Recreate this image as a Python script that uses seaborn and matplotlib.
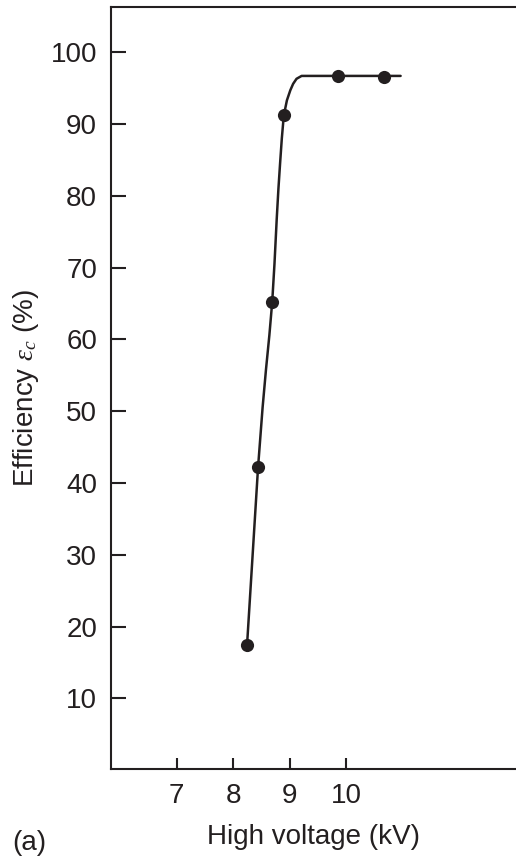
import numpy as np
import pandas as pd
import matplotlib
matplotlib.use("Agg")
import matplotlib.pyplot as plt
import seaborn as sns

# Measured points
voltage_kv = [8.245, 8.44, 8.69, 8.895, 9.85, 10.66]
efficiency_pct = [17.4, 42.2, 65.2, 91.2, 96.7, 96.6]

# Hand-read points along the drawn smooth curve
curve_kv = [8.245, 8.44, 8.52, 8.58, 8.64, 8.69, 8.73, 8.77, 8.80, 8.83, 8.86, 8.895, 8.95, 9.01, 9.06, 9.12, 9.21, 9.85, 10.66, 10.96]
curve_pct = [17.4, 42.2, 50.5, 55.8, 60.6, 65.2, 70.5, 76.8, 81.0, 84.6, 88.0, 91.2, 93.3, 94.7, 95.6, 96.3, 96.7, 96.7, 96.7, 96.7]

x_ticks = [7, 8, 9, 10]
y_ticks = [10, 20, 30, 40, 50, 60, 70, 80, 90, 100]

sns.set_theme(style="ticks")
plt.rcParams['font.family'] = ['Liberation Sans', 'DejaVu Sans']
plt.rcParams['mathtext.fontset'] = 'custom'
plt.rcParams['mathtext.it'] = 'Liberation Serif:italic'
plt.rcParams['mathtext.rm'] = 'Liberation Sans'

ink = "#231f20"
fs = 20
fig = plt.figure(figsize=(5.16, 8.6), dpi=100)
ax = fig.add_axes([111/516, 1 - 769/860, 1 - 111/516, (769 - 7)/860])

sns.lineplot(x=curve_kv, y=curve_pct, ax=ax, color=ink, linewidth=1.8, sort=False, estimator=None)
sns.scatterplot(x=voltage_kv, y=efficiency_pct, ax=ax, color=ink, s=90, edgecolor=ink, linewidth=0, zorder=5)

ax.set_xlim(5.84, 13.0)
ax.set_ylim(0.15, 106.3)
ax.set_xticks(x_ticks)
ax.set_xticklabels([str(t) for t in x_ticks])
ax.set_yticks(y_ticks)
ax.set_yticklabels([str(t) for t in y_ticks])

for s in ["left", "bottom", "top"]:
    ax.spines[s].set_linewidth(1.5)
    ax.spines[s].set_color(ink)
ax.spines["right"].set_visible(False)

ax.tick_params(axis="y", direction="in", length=10.8, width=1.5, color=ink, pad=10, labelsize=fs, labelcolor=ink)
ax.tick_params(axis="x", direction="in", length=8, width=1.5, color=ink, pad=10, labelsize=fs, labelcolor=ink)

ax.set_xlabel("High voltage (kV)", fontsize=fs, color=ink, labelpad=11)
ax.set_ylabel(r"Efficiency $\varepsilon_c$ (%)", fontsize=fs, color=ink, labelpad=7)

fig.text(12/516, 1 - 850/860, "(a)", fontsize=fs, color=ink, ha="left", va="baseline")

fig.savefig("out.png", dpi=100)
